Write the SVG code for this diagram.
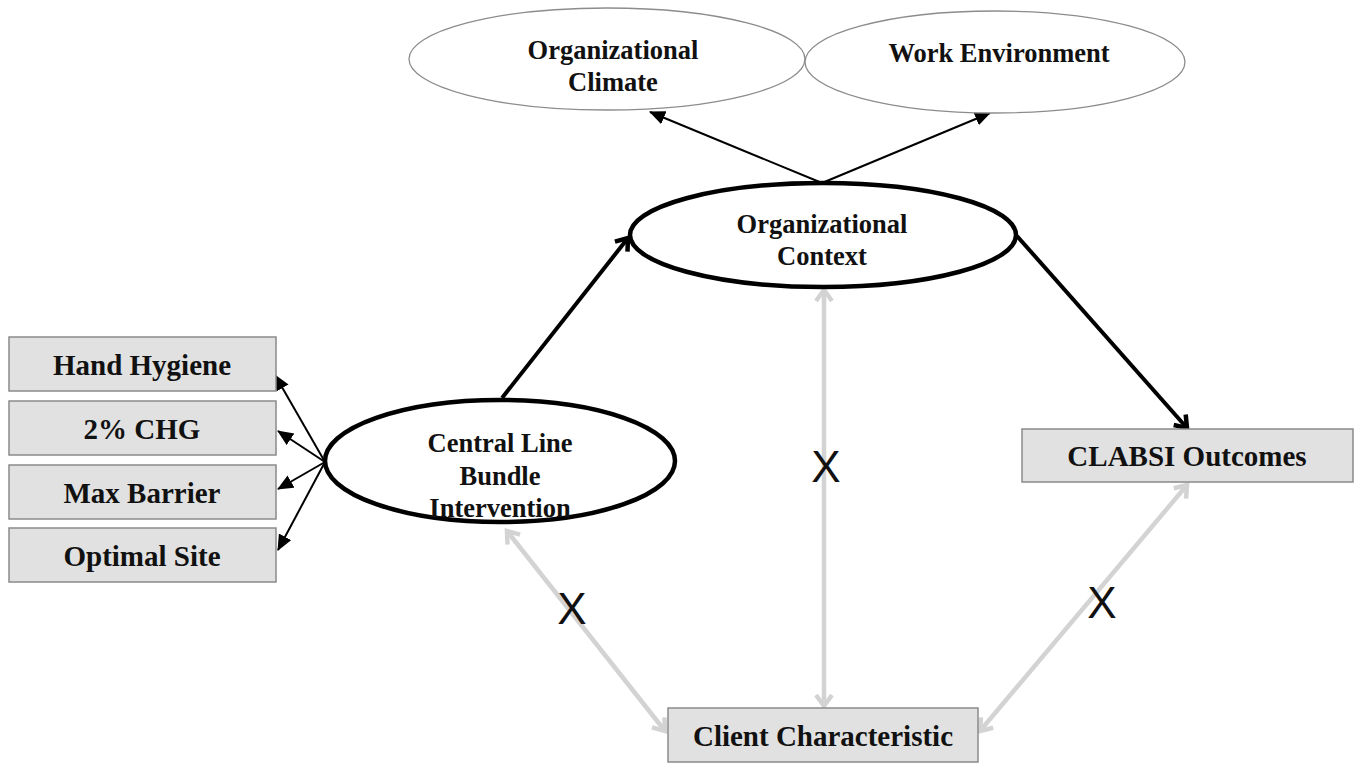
<svg xmlns="http://www.w3.org/2000/svg" width="1360" height="766" viewBox="0 0 1360 766">
<style>
.box{fill:#e1e1e1;stroke:#8a8a8a;stroke-width:1.5}
.lat{fill:#fff;stroke:#8c8c8c;stroke-width:1.3}
.main{fill:#fff;stroke:#000;stroke-width:4.5}
.t{font-family:"Liberation Serif","Times New Roman",serif;font-weight:bold;fill:#111;text-anchor:middle}
.tb{font-size:29px}
.te{font-size:26.5px}
.x{font-family:"Liberation Sans",Arial,sans-serif;font-size:44px;fill:#111;text-anchor:middle}
.thin{stroke:#000;stroke-width:2;fill:none;marker-end:url(#tri)}
.thick{stroke:#000;stroke-width:4;fill:none;marker-end:url(#chevK)}
.grey{stroke:#d3d3d3;stroke-width:4.5;fill:none;marker-start:url(#chevG);marker-end:url(#chevG)}
</style>
<defs>
<marker id="tri" markerUnits="userSpaceOnUse" markerWidth="18" markerHeight="16" refX="15" refY="7" orient="auto"><path d="M0,0 L16,7 L0,14 z" fill="#000"/></marker>
<marker id="chevK" markerUnits="userSpaceOnUse" markerWidth="20" markerHeight="22" refX="13" refY="10" orient="auto"><path d="M2,2 L13,10 L2,18" fill="none" stroke="#000" stroke-width="4.5" stroke-linejoin="miter"/></marker>
<marker id="chevG" markerUnits="userSpaceOnUse" markerWidth="20" markerHeight="22" refX="13" refY="10" orient="auto-start-reverse"><path d="M2,2 L13,10 L2,18" fill="none" stroke="#d3d3d3" stroke-width="4.5"/></marker>
</defs>
<rect width="1360" height="766" fill="#fff"/>

<g id="connectors">
<line class="thin" x1="325" y1="462" x2="275" y2="375"/>
<line class="thin" x1="325" y1="462" x2="278" y2="431"/>
<line class="thin" x1="325" y1="462" x2="278" y2="489"/>
<line class="thin" x1="325" y1="462" x2="278" y2="550"/>
<line class="thin" x1="822" y1="183" x2="650" y2="112"/>
<line class="thin" x1="822" y1="183" x2="990" y2="113"/>
<line class="thick" x1="502" y1="398" x2="628" y2="238"/>
<line class="thick" x1="1017" y1="236" x2="1187" y2="428"/>
<line class="grey" x1="824" y1="290" x2="824" y2="706"/>
<line class="grey" x1="507" y1="531" x2="665" y2="731"/>
<line class="grey" x1="980" y1="731" x2="1187" y2="485"/>
</g>

<g id="organizational-climate">
<ellipse class="lat" cx="607" cy="59" rx="198" ry="51"/>
<text class="t te" x="613" y="59">Organizational</text>
<text class="t te" x="613" y="91">Climate</text>
</g>
<g id="work-environment">
<ellipse class="lat" cx="995" cy="62" rx="190" ry="51"/>
<text class="t te" x="999" y="62">Work Environment</text>
</g>
<g id="organizational-context">
<ellipse class="main" cx="823" cy="235" rx="193" ry="52"/>
<text class="t te" x="822" y="233">Organizational</text>
<text class="t te" x="822" y="265">Context</text>
</g>
<g id="central-line">
<ellipse class="main" cx="500" cy="461" rx="175" ry="61"/>
<text class="t te" x="500" y="452">Central Line</text>
<text class="t te" x="500" y="485">Bundle</text>
<text class="t te" x="500" y="517">Intervention</text>
</g>
<g id="hand-hygiene">
<rect class="box" x="9" y="337" width="267" height="54"/>
<text class="t tb" x="142" y="375">Hand Hygiene</text>
</g>
<g id="chg">
<rect class="box" x="9" y="401" width="267" height="54"/>
<text class="t tb" x="142" y="439">2% CHG</text>
</g>
<g id="max-barrier">
<rect class="box" x="9" y="465" width="267" height="54"/>
<text class="t tb" x="142" y="503">Max Barrier</text>
</g>
<g id="optimal-site">
<rect class="box" x="9" y="528" width="267" height="54"/>
<text class="t tb" x="142" y="566">Optimal Site</text>
</g>
<g id="clabsi">
<rect class="box" x="1022" y="429" width="331" height="53"/>
<text class="t tb" x="1187" y="466">CLABSI Outcomes</text>
</g>
<g id="client">
<rect class="box" x="668" y="708" width="310" height="54"/>
<text class="t tb" x="823" y="746">Client Characteristic</text>
</g>
<g id="x-labels">
<text class="x" x="572" y="624">X</text>
<text class="x" x="826" y="482">X</text>
<text class="x" x="1102" y="618">X</text>
</g>
</svg>
